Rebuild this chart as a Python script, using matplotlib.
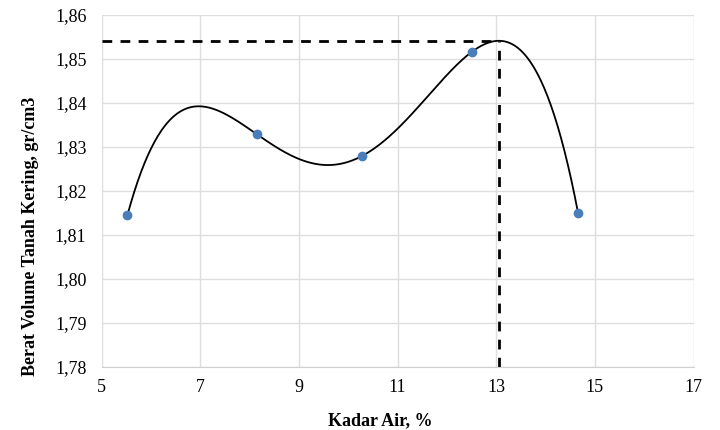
import numpy as np
import matplotlib.pyplot as plt
from matplotlib.ticker import FuncFormatter

plt.rcParams.update({"font.family": ["Liberation Serif", "DejaVu Serif"], "font.size": 13})

# data
kadar_air = [5.52, 8.15, 10.28, 12.51, 14.66]
berat_volume = [1.8144, 1.8328, 1.8279, 1.8516, 1.8149]

# polynomial trendline (order 4) through the points
coef = np.polyfit(kadar_air, berat_volume, 4)
poly = np.poly1d(coef)
xs = np.linspace(min(kadar_air), max(kadar_air), 400)
ys = poly(xs)
i_max = np.argmax(ys)
x_opt, y_opt = xs[i_max], ys[i_max]

fig = plt.figure(figsize=(7.2, 4.3), dpi=100)
ax = fig.add_axes([0.1413, 0.1472, 0.8219, 0.8186])

ax.plot(xs, ys, color="black", lw=1.3, zorder=3)
ax.scatter(kadar_air, berat_volume, s=36, color="#4a7ebb", zorder=4)

# dashed guide lines to the peak
ax.plot([5, x_opt], [y_opt, y_opt], color="black", lw=2, ls=(0, (3.5, 3)), zorder=2)
ax.plot([x_opt, x_opt], [1.78, y_opt], color="black", lw=2, ls=(0, (3.5, 3)), zorder=2)

ax.set_xlim(5, 17)
ax.set_ylim(1.78, 1.86)
ax.set_xticks(np.arange(5, 18, 2))
ax.set_yticks(np.arange(1.78, 1.8601, 0.01))
ax.yaxis.set_major_formatter(FuncFormatter(lambda v, p: f"{v:.2f}".replace(".", ",")))

ax.grid(True, color="#dedede", lw=1)
ax.set_axisbelow(True)
for s in ["top", "right", "left"]:
    ax.spines[s].set_visible(False)
ax.spines["bottom"].set_color("#d0d0d0")
ax.tick_params(axis="both", length=0, labelsize=13)
ax.tick_params(axis="x", pad=9)
ax.tick_params(axis="y", pad=11)

ax.set_xlabel("Kadar Air, %", fontweight="bold", fontsize=13)
ax.xaxis.set_label_coords(0.471, -0.128)
ax.set_ylabel("Berat Volume Tanah Kering, gr/cm3", fontweight="bold", fontsize=13)
ax.yaxis.set_label_coords(-0.106, 0.37)

plt.savefig("out.png", dpi=100)
